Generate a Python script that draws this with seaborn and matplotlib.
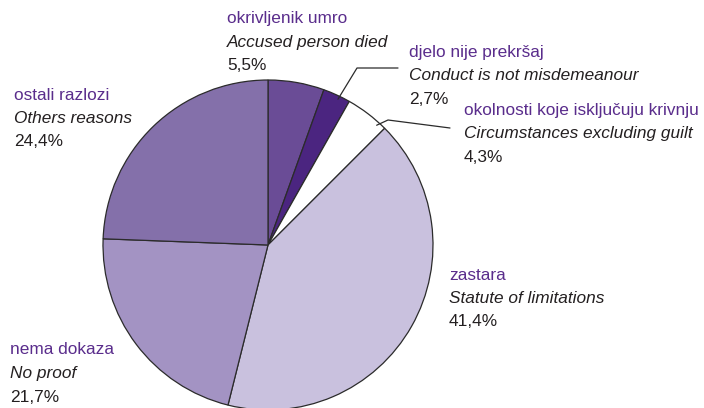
import numpy as np
import seaborn as sns
import matplotlib.pyplot as plt

# data, clockwise from 12 o'clock
labels_hr = ["okrivljenik umro", "djelo nije prekršaj", "okolnosti koje isključuju krivnju",
             "zastara", "nema dokaza", "ostali razlozi"]
labels_en = ["Accused person died", "Conduct is not misdemeanour", "Circumstances excluding guilt",
             "Statute of limitations", "No proof", "Others reasons"]
shares = [5.5, 2.7, 4.3, 41.4, 21.7, 24.4]
colors = ["#6a4c96", "#4b2580", "#ffffff", "#c9c1de", "#a393c3", "#8470aa"]

sns.set_theme(style="white")
plt.rcParams["font.family"] = ["Liberation Sans", "DejaVu Sans"]

W, H = 704, 408
fig = plt.figure(figsize=(W / 100, H / 100), dpi=100)
ax = fig.add_axes([0, 0, 1, 1])

cx, cy, r = 268, H - 245, 165
wedges, _ = ax.pie(shares, colors=colors, startangle=90, counterclock=False,
                   center=(cx, cy), radius=r, frame=True,
                   wedgeprops=dict(edgecolor="#2b2b2b", linewidth=0.9))
ax.set_xlim(0, W)
ax.set_ylim(0, H)
ax.set_aspect("equal")
ax.axis("off")

purple = "#5a2d8c"
dark = "#231f20"
fs = 12.4

# label block positions (left x, first-line centre y in pixels from top)
label_pos = [(227, 19), (409, 52), (464, 110), (449, 275), (10, 350), (14, 95)]
step = 23.5


def fmt(v):
    return f"{v:.1f}%".replace(".", ",")


for hr, en, v, (x, y) in zip(labels_hr, labels_en, shares, label_pos):
    ax.text(x, H - y, hr, color=purple, fontsize=fs, va="center", ha="left")
    ax.text(x, H - y - step, en, color=dark, fontsize=fs, va="center", ha="left", style="italic")
    ax.text(x, H - y - 2 * step, fmt(v), color=dark, fontsize=fs, va="center", ha="left")

# leader lines for the two small slices: (fraction along wedge, elbow, end)
leaders = {1: (0.6, [(357, 68), (398, 68)]), 2: (0.82, [(388, 120), (450, 128)])}
for i, (f, pts) in leaders.items():
    w = wedges[i]
    hi, lo = max(w.theta1, w.theta2), min(w.theta1, w.theta2)
    ang = np.deg2rad(hi - f * (hi - lo))
    start = (cx + 0.98 * r * np.cos(ang), cy + 0.98 * r * np.sin(ang))
    xs = [start[0]] + [p[0] for p in pts]
    ys = [start[1]] + [H - p[1] for p in pts]
    ax.plot(xs, ys, color="#2b2b2b", linewidth=0.9)

fig.savefig("out.png", dpi=100)
